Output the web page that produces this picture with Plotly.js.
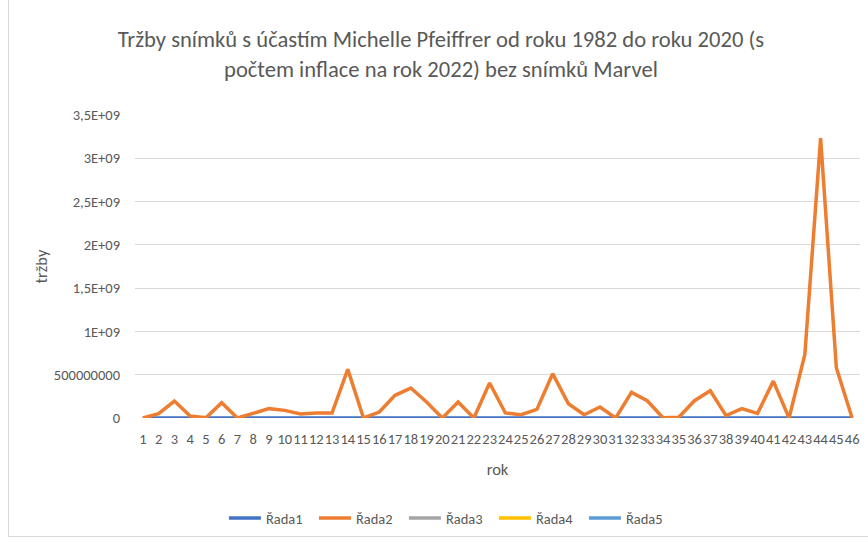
<!DOCTYPE html>
<html>
<head>
<meta charset="utf-8">
<script src="https://cdn.plot.ly/plotly-3.0.1.min.js"></script>
<style>
html,body{margin:0;padding:0;background:#fff;}
#frame{position:absolute;left:8px;top:-2px;width:900px;height:539px;border:1px solid #d9d9d9;box-sizing:border-box;}
#chart{position:absolute;left:0;top:0;width:868px;height:543px;}
</style>
</head>
<body>
<div id="frame"></div>
<div id="chart"></div>
<script>
const years = [1,2,3,4,5,6,7,8,9,10,11,12,13,14,15,16,17,18,19,20,21,22,23,24,25,26,27,28,29,30,31,32,33,34,35,36,37,38,39,40,41,42,43,44,45,46];
const rada1 = [0,0,0,0,0,0,0,0,0,0,0,0,0,0,0,0,0,0,0,0,0,0,0,0,0,0,0,0,0,0,0,0,0,0,0,0,0,0,0,0,0,0,0,0,0,0];
const rada2 = [0,50e6,196e6,23e6,2e6,177e6,0,58e6,108e6,88e6,46e6,58e6,58e6,562e6,0,69e6,262e6,346e6,185e6,0,185e6,0,404e6,58e6,38e6,100e6,512e6,165e6,38e6,127e6,0,296e6,200e6,3e6,8e6,200e6,315e6,27e6,108e6,54e6,426e6,0,733e6,3233e6,580e6,0];
const rada3 = [null,null,null,null,null,null,null,null,null,null,null,null,null,null,null,null,null,null,null,null,null,null,null,null,null,null,null,null,null,null,null,null,null,null,null,null,null,null,null,null,null,null,null,null,null,null];
const rada4 = [null,null,null,null,null,null,null,null,null,null,null,null,null,null,null,null,null,null,null,null,null,null,null,null,null,null,null,null,null,null,null,null,null,null,null,null,null,null,null,null,null,null,null,null,null,null];
const rada5 = [null,null,null,null,null,null,null,null,null,null,null,null,null,null,null,null,null,null,null,null,null,null,null,null,null,null,null,null,null,null,null,null,null,null,null,null,null,null,null,null,null,null,null,null,null,null];
const seriesNames = ['Řada1','Řada2','Řada3','Řada4','Řada5'];
const yTickVals = [0,5e8,1e9,1.5e9,2e9,2.5e9,3e9,3.5e9];
const yTickText = ['0','500000000','1E+09','1,5E+09','2E+09','2,5E+09','3E+09','3,5E+09'];
const colors = ['#4472C4','#ED7D31','#A5A5A5','#FFC000','#5B9BD5'];
const ys = [rada1, rada2, rada3, rada4, rada5];

const font = 'Carlito, Calibri, "Open Sans", sans-serif';
const traces = ys.map((y,i)=>({
  type:'scatter', mode:'lines', name:seriesNames[i],
  x: years, y: y,
  line:{color:colors[i], width:3.5}
}));

const layout = {
  width:868, height:543,
  paper_bgcolor:'rgba(0,0,0,0)', plot_bgcolor:'rgba(0,0,0,0)',
  margin:{l:135,r:8,t:115,b:125},
  font:{family:font, color:'#595959', size:14.5},
  title:{text:'Tržby snímků s účastím Michelle Pfeiffrer od roku 1982 do roku 2020 (s<br>počtem inflace na rok 2022) bez snímků Marvel',
    font:{size:22.6, color:'#595959', family:font}, x:0.508, xanchor:'center', y:0.913, yanchor:'top'},
  xaxis:{range:[0.5,46.5], tickmode:'array', tickvals:years, ticktext:years.map(String), tickangle:0,
    showgrid:false, zeroline:false, showline:false, ticks:'', tickfont:{size:14.5}, ticklabelstandoff:10,
    title:{text:'rok', font:{size:16.5}, standoff:16}},
  yaxis:{range:[0,3.5e9], tickmode:'array', tickvals:yTickVals, ticktext:yTickText,
    showgrid:true, gridcolor:'#d9d9d9', gridwidth:1, zeroline:false, showline:false, ticks:'',
    tickfont:{size:14.5}, ticklabelstandoff:14,
    title:{text:'tržby', font:{size:16.5}, standoff:2}},
  showlegend:true,
  legend:{orientation:'h', x:0.433, xanchor:'center', y:-0.33, yanchor:'middle', font:{size:14.5},
    itemwidth:32, entrywidth:43, entrywidthmode:'pixels', tracegroupgap:0}
};
Plotly.newPlot('chart', traces, layout, {staticPlot:true});
</script>
</body>
</html>
